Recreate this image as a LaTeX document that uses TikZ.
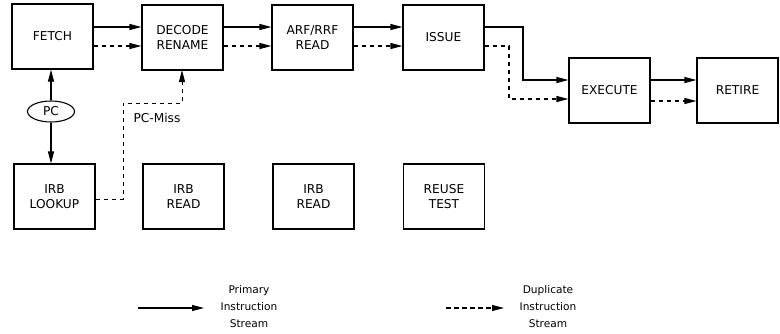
\documentclass[tikz,border=0pt]{standalone}
\usepackage{fontspec}
\setmainfont{DejaVu Sans}
\usetikzlibrary{arrows.meta,shapes.geometric}
\begin{document}
\begin{tikzpicture}[x=1pt,y=-1pt,
  stage/.style={draw,line width=1.1pt,minimum width=81pt,minimum height=65pt,
    inner sep=0pt,align=center,font=\fontsize{12.2}{15}\selectfont},
  flow/.style={line width=1.1pt,-{Triangle[length=12pt,width=6pt]}},
  dup/.style={flow,dash pattern=on 4.5pt off 3.5pt},
  legend/.style={align=center,font=\fontsize{10.6}{17}\selectfont},
  lbl/.style={font=\fontsize{12.2}{14}\selectfont}]
\useasboundingbox (0,0) rectangle (780,333);

% pipeline stages
\node[stage] (fetch)  at (52.5,36.5)  {FETCH};
\node[stage] (decode) at (182.5,37.5) {DECODE\\RENAME};
\node[stage] (arf)    at (312.5,37.5) {ARF/RRF\\READ};
\node[stage] (issue)  at (443.5,37.5) {ISSUE};
\node[stage] (exec)   at (609.5,90.5) {EXECUTE};
\node[stage] (retire) at (737.5,90.5) {RETIRE};

% reuse-buffer stages
\node[stage] (lookup) at (54.5,196.5)  {IRB\\LOOKUP};
\node[stage] (irbr1)  at (183.5,196.5) {IRB\\READ};
\node[stage] (irbr2)  at (313.5,196.5) {IRB\\READ};
\node[stage] (reuse)  at (444,196.5)   {REUSE\\TEST};

\node[draw,ellipse,line width=1.1pt,minimum width=47pt,minimum height=21pt,
  inner sep=0pt,lbl] (pc) at (51,111.5) {PC};

% primary and duplicate streams
\draw[flow] (fetch.east |- 0,27) -- (decode.west |- 0,27);
\draw[dup]  (fetch.east |- 0,46) -- (decode.west |- 0,46);
\draw[flow] (decode.east |- 0,27) -- (arf.west |- 0,27);
\draw[dup]  (decode.east |- 0,46) -- (arf.west |- 0,46);
\draw[flow] (arf.east |- 0,27) -- (issue.west |- 0,27);
\draw[dup]  (arf.east |- 0,46) -- (issue.west |- 0,46);
\draw[flow] (issue.east |- 0,27) -- (523,27) -- (523,80) -- (exec.west |- 0,80);
\draw[dup]  (issue.east |- 0,46) -- (509,46) -- (509,99) -- (exec.west |- 0,99);
\draw[flow] (exec.east |- 0,80) -- (retire.west |- 0,80);
\draw[dup]  (exec.east |- 0,101) -- (retire.west |- 0,101);

% program counter
\draw[flow] (pc.north) -- (pc.north |- fetch.south);
\draw[flow] (pc.south) -- (pc.south |- lookup.north);

% reuse miss path
\draw[dup,line width=1pt] (lookup.east |- 0,199) -- (123,199) -- (123,103) -- (182,103) -- (182,70);
\node[lbl,anchor=west] (miss) at (130,118) {PC-Miss};

% legend
\coordinate (ps) at (138,308);
\coordinate (pe) at (204,308);
\draw[flow] (ps) -- (pe);
\node[legend] (plbl) at (249,307) {Primary\\Instruction\\Stream};
\coordinate (ds) at (446,308);
\coordinate (de) at (504,308);
\draw[dup] (ds) -- (de);
\node[legend] (dlbl) at (548,307) {Duplicate\\Instruction\\Stream};
\end{tikzpicture}
\end{document}
